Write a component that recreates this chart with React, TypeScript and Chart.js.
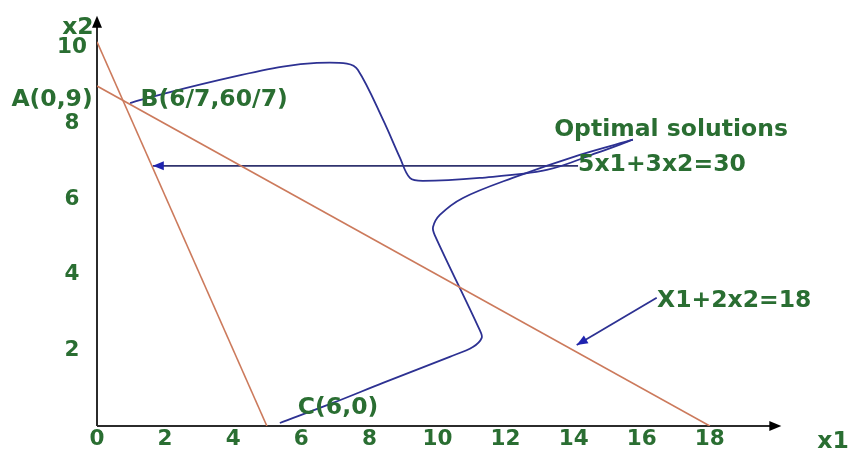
import React, { useEffect, useRef } from "react";
import { Chart, registerables } from "chart.js";

Chart.register(...registerables);

// ---- data (in x1 / x2 units) ----
const xTickValues = [0, 2, 4, 6, 8, 10, 12, 14, 16, 18];
const yTickValues = [2, 4, 6, 8, 10];

// 5x1 + 3x2 = 30 (as drawn)
const constraintSteep = [
  { x: 0, y: 10.16 },
  { x: 4.99, y: 0 },
];
// x1 + 2x2 = 18
const constraintShallow = [
  { x: 0, y: 8.99 },
  { x: 18, y: 0 },
];
// freehand "optimal solutions" curves
const optimalUpper = [
  { x: 0.97, y: 8.54 },
  { x: 2.06, y: 8.81 },
  { x: 3.99, y: 9.23 },
  { x: 5.46, y: 9.5 },
  { x: 6.46, y: 9.6 },
  { x: 7.34, y: 9.58 },
  { x: 7.66, y: 9.42 },
  { x: 8.4, y: 8.1 },
  { x: 8.9, y: 7.09 },
  { x: 9.19, y: 6.56 },
  { x: 9.57, y: 6.48 },
  { x: 11.24, y: 6.56 },
  { x: 13.21, y: 6.77 },
  { x: 14.68, y: 7.22 },
  { x: 15.74, y: 7.57 },
];
const optimalLower = [
  { x: 15.74, y: 7.57 },
  { x: 14.18, y: 7.17 },
  { x: 12.21, y: 6.56 },
  { x: 10.75, y: 6.03 },
  { x: 10.07, y: 5.58 },
  { x: 9.87, y: 5.26 },
  { x: 9.92, y: 5.05 },
  { x: 11.24, y: 2.54 },
  { x: 11.3, y: 2.33 },
  { x: 11.04, y: 2.09 },
  { x: 10.36, y: 1.83 },
  { x: 8.4, y: 1.14 },
  { x: 6.93, y: 0.61 },
  { x: 5.37, y: 0.08 },
];
const objectiveArrow = [
  { x: 14.13, y: 6.88 },
  { x: 1.64, y: 6.88 },
];
const constraintArrow = [
  { x: 16.44, y: 3.39 },
  { x: 14.09, y: 2.14 },
];
const axisEnds = { x: 20.1, y: 10.85 };

// ---- annotations ----
const annotationTexts = [
  { text: "x2", x: -0.56, y: 10.52, align: "center" },
  { text: "A(0,9)", x: -1.32, y: 8.62, align: "center" },
  { text: "B(6/7,60/7)", x: 3.44, y: 8.62, align: "center" },
  { text: "C(6,0)", x: 7.08, y: 0.48, align: "center" },
  { text: "Optimal solutions", x: 16.86, y: 7.83, align: "center" },
  { text: "5x1+3x2=30", x: 14.13, y: 6.9, align: "left" },
  { text: "X1+2x2=18", x: 16.45, y: 3.3, align: "left" },
  { text: "x1", x: 21.62, y: -0.42, align: "center" },
];

const GREEN = "#2a6e32";
const BLUE = "#2d3192";
const RED = "#cc7a5c";
const AXIS = "#2b2b2b";
const FONT = '"DejaVu Sans", "Liberation Sans", sans-serif';

function head(ctx: CanvasRenderingContext2D, fx: number, fy: number, tx: number, ty: number, len: number, half: number, color: string) {
  const a = Math.atan2(ty - fy, tx - fx);
  ctx.save();
  ctx.fillStyle = color;
  ctx.beginPath();
  ctx.moveTo(tx, ty);
  ctx.lineTo(tx - len * Math.cos(a) + half * Math.sin(a), ty - len * Math.sin(a) - half * Math.cos(a));
  ctx.lineTo(tx - len * Math.cos(a) - half * Math.sin(a), ty - len * Math.sin(a) + half * Math.cos(a));
  ctx.closePath();
  ctx.fill();
  ctx.restore();
}

const overlayPlugin = {
  id: "overlay",
  beforeDatasetsDraw(chart: any) {
    const { ctx, scales } = chart;
    const xs = scales.x;
    const ys = scales.y;
    const ox = xs.getPixelForValue(0);
    const oy = ys.getPixelForValue(0);
    const xe = xs.getPixelForValue(axisEnds.x);
    const ye = ys.getPixelForValue(axisEnds.y);
    ctx.save();
    ctx.strokeStyle = AXIS;
    ctx.lineWidth = 2;
    ctx.beginPath();
    ctx.moveTo(ox, oy);
    ctx.lineTo(xe - 6, oy);
    ctx.moveTo(ox, oy);
    ctx.lineTo(ox, ye + 6);
    ctx.stroke();
    ctx.restore();
    head(ctx, ox, oy, xe, oy, 12, 5, "#000");
    head(ctx, ox, oy, ox, ye, 12, 5, "#000");
  },
  afterDatasetsDraw(chart: any) {
    const { ctx, scales } = chart;
    const xs = scales.x;
    const ys = scales.y;
    chart.data.datasets.forEach((ds: any) => {
      if (!ds.arrow) return;
      const n = ds.data.length;
      const a = ds.data[n - 2];
      const b = ds.data[n - 1];
      head(
        ctx,
        xs.getPixelForValue(a.x),
        ys.getPixelForValue(a.y),
        xs.getPixelForValue(b.x),
        ys.getPixelForValue(b.y),
        11,
        4.5,
        "#1f23b0"
      );
    });
    ctx.save();
    ctx.font = `bold 23.5px ${FONT}`;
    ctx.fillStyle = GREEN;
    ctx.textBaseline = "middle";
    annotationTexts.forEach((t) => {
      ctx.textAlign = t.align as CanvasTextAlign;
      ctx.fillText(t.text, xs.getPixelForValue(t.x), ys.getPixelForValue(t.y));
    });
    ctx.restore();
  },
};

export default function App() {
  const ref = useRef<HTMLCanvasElement | null>(null);
  useEffect(() => {
    if (!ref.current) return;
    const line = (data: any[], color: string, width: number, extra: any = {}) => ({
      data,
      showLine: true,
      borderColor: color,
      backgroundColor: color,
      borderWidth: width,
      pointRadius: 0,
      fill: false,
      ...extra,
    });
    const chart = new Chart(ref.current, {
      type: "scatter",
      data: {
        datasets: [
          line(constraintSteep, RED, 1.6),
          line(constraintShallow, RED, 1.6),
          line(optimalUpper, BLUE, 1.8, { tension: 0.35 }),
          line(optimalLower, BLUE, 1.8, { tension: 0.35 }),
          line(objectiveArrow, "#30336e", 1.8, { arrow: true }),
          line(constraintArrow, BLUE, 1.8, { arrow: true }),
        ] as any,
      },
      options: {
        animation: false,
        responsive: false,
        events: [],
        layout: { padding: { top: 10, right: 11, left: 0, bottom: 0 } },
        plugins: { legend: { display: false }, tooltip: { enabled: false } },
        scales: {
          x: {
            type: "linear",
            min: 0,
            max: 22,
            grid: { display: false, drawTicks: false },
            border: { display: false },
            afterBuildTicks: (s: any) => {
              s.ticks = xTickValues.map((v) => ({ value: v }));
            },
            afterFit: (s: any) => {
              s.height = 31;
              s.paddingLeft = 0;
              s.paddingRight = 0;
            },
            ticks: {
              color: GREEN,
              font: { family: FONT, size: 21.5, weight: "bold" },
              padding: 1,
              maxRotation: 0,
              autoSkip: false,
            },
          },
          y: {
            type: "linear",
            min: 0,
            max: 11,
            grid: { display: false, drawTicks: false },
            border: { display: false },
            afterBuildTicks: (s: any) => {
              s.ticks = yTickValues.map((v) => ({ value: v }));
            },
            afterFit: (s: any) => {
              s.width = 97;
              s.paddingTop = 0;
              s.paddingBottom = 0;
            },
            ticks: {
              color: GREEN,
              font: { family: FONT, size: 21.5, weight: "bold" },
              padding: 10,
              crossAlign: "center",
              autoSkip: false,
            },
          },
        },
      } as any,
      plugins: [overlayPlugin],
    });
    return () => chart.destroy();
  }, []);
  return (
    <div style={{ position: "fixed", left: 0, top: 0, width: 857, height: 457, background: "#fff" }}>
      <canvas ref={ref} width={857} height={457} style={{ display: "block" }} />
    </div>
  );
}
